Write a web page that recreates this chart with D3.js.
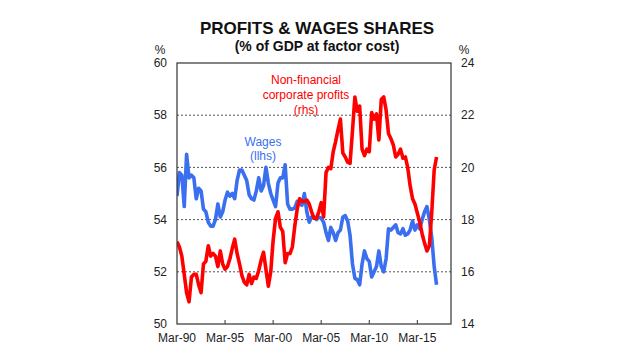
<!DOCTYPE html>
<html>
<head>
<meta charset="utf-8">
<script src="https://cdn.jsdelivr.net/npm/d3@7/dist/d3.min.js"></script>
<style>
  html, body { margin: 0; padding: 0; background: #fff; }
  svg { display: block; font-family: "Liberation Sans", Arial, sans-serif; }
</style>
</head>
<body>
<svg id="chart" width="640" height="360"></svg>
<script>
// Quarterly data, Mar-1990 onwards
const startYear = 1990;
const wages = [
  54.9, 55.8, 55.7, 54.5, 56.5, 55.6, 55.7, 55.6, 54.8, 55.2,
  55.1, 54.4, 54.3, 53.9, 53.75, 53.75, 54.0, 54.6, 54.1, 54.3,
  54.75, 55.05, 54.9, 55.0, 54.8, 55.5, 55.9, 55.9, 55.7, 55.5,
  54.95, 54.8, 54.75, 55.1, 55.6, 55.1, 55.3, 56.0, 55.4, 55.0,
  54.75, 54.5, 55.4, 55.6, 55.6, 56.1, 54.6, 54.4, 54.4, 54.45,
  54.7, 54.6, 54.55, 55.0, 54.3, 53.9, 54.1, 54.1, 54.0, 54.1,
  54.05, 53.9, 53.5, 53.2, 53.7, 53.5, 53.2, 53.5, 53.6, 54.1,
  54.15, 53.95, 53.4, 52.3, 51.75, 51.7, 51.5, 52.3, 52.8, 52.5,
  52.4, 51.8, 52.0, 52.2, 52.8, 52.2, 52.0, 52.5, 53.65, 53.6,
  53.7, 53.8, 53.5, 53.45, 53.65, 53.4, 53.45, 53.6, 53.95, 53.6,
  53.8, 53.65, 54.0, 54.3, 54.5, 54.0, 53.3, 52.2, 51.5
];
const profits = [
  17.15, 16.95, 16.6, 15.9, 15.2, 14.85, 15.8, 15.9, 15.9, 15.5,
  15.2, 16.3, 16.4, 17.0, 16.6, 16.7, 16.6, 16.2, 16.8, 16.3,
  16.1, 16.2, 16.5, 16.9, 17.25, 16.7, 16.3, 15.85, 15.6, 15.5,
  15.9, 15.55, 15.8, 15.75, 16.05, 16.45, 16.75, 16.1, 15.45, 16.0,
  17.2, 18.05, 18.3, 17.7, 17.55, 16.35, 16.7, 16.7, 16.95, 17.75,
  18.4, 18.8, 18.7, 18.7, 18.75, 18.6, 18.3, 18.05, 18.05, 18.3,
  18.65, 18.1, 19.8, 20.0, 19.95, 20.6, 21.0, 21.45, 21.85, 20.55,
  20.4, 20.2, 20.15, 21.4, 22.7, 22.15, 22.35, 20.7, 20.45, 20.7,
  20.6, 22.1, 21.85, 22.05, 21.05, 22.6, 22.7, 22.2, 21.3, 21.1,
  20.85, 20.4, 20.5, 20.7, 20.35, 20.4, 20.0, 19.3, 18.8, 18.6,
  18.25, 17.9, 17.45, 17.1, 16.8, 17.0, 18.3, 19.9, 20.4
];
const leftTicks = [50, 52, 54, 56, 58, 60];
const rightTicks = [14, 16, 18, 20, 22, 24];
const xTickYears = [1990, 1995, 2000, 2005, 2010, 2015];
const xTickLabels = ["Mar-90", "Mar-95", "Mar-00", "Mar-05", "Mar-10", "Mar-15"];

const qDate = i => new Date(startYear, 2 + 3 * i, 1);

const svg = d3.select("#chart");
const L = 177, R = 451, T = 63, B = 324;

const x = d3.scaleTime().domain([new Date(1990, 2, 1), new Date(2018, 8, 1)]).range([L, R]);
const yL = d3.scaleLinear().domain([50, 60]).range([B, T]);
const yR = d3.scaleLinear().domain([14, 24]).range([B, T]);

// Titles
svg.append("text").attr("x", 317).attr("y", 34).attr("text-anchor", "middle")
  .attr("font-size", 17).attr("font-weight", "bold").attr("fill", "#111")
  .text("PROFITS & WAGES SHARES");
svg.append("text").attr("x", 317).attr("y", 51).attr("text-anchor", "middle")
  .attr("font-size", 14).attr("font-weight", "bold").attr("fill", "#111")
  .text("(% of GDP at factor cost)");

// gridlines
svg.append("g").selectAll("line").data(leftTicks.filter(d => d > 50 && d < 60)).join("line")
  .attr("x1", L).attr("x2", R).attr("y1", d => yL(d)).attr("y2", d => yL(d))
  .attr("stroke", "#555").attr("stroke-width", 1).attr("stroke-dasharray", "2,2");

// axes labels
svg.append("g").selectAll("text").data(leftTicks).join("text")
  .attr("x", L - 10).attr("y", d => yL(d)).attr("dy", "0.35em")
  .attr("text-anchor", "end").attr("font-size", 12).attr("fill", "#222").text(d => d);
svg.append("g").selectAll("text").data(rightTicks).join("text")
  .attr("x", R + 10).attr("y", d => yR(d)).attr("dy", "0.35em")
  .attr("text-anchor", "start").attr("font-size", 12).attr("fill", "#222").text(d => d);
svg.append("text").attr("x", 160).attr("y", 54).attr("text-anchor", "middle")
  .attr("font-size", 12).attr("fill", "#222").text("%");
svg.append("text").attr("x", 464).attr("y", 54).attr("text-anchor", "middle")
  .attr("font-size", 12).attr("fill", "#222").text("%");

// x ticks
const xg = svg.append("g");
xg.selectAll("line").data(xTickYears.slice(1)).join("line")
  .attr("x1", d => x(new Date(d, 2, 1))).attr("x2", d => x(new Date(d, 2, 1)))
  .attr("y1", B).attr("y2", B - 4).attr("stroke", "#333");
xg.selectAll("text").data(xTickYears).join("text")
  .attr("x", d => x(new Date(d, 2, 1))).attr("y", 342)
  .attr("text-anchor", "middle").attr("font-size", 12).attr("fill", "#222")
  .text((d, i) => xTickLabels[i]);

// clip
svg.append("clipPath").attr("id", "clip").append("rect")
  .attr("x", L).attr("y", T).attr("width", R - L).attr("height", B - T);

const lineL = d3.line().x((d, i) => x(qDate(i))).y(d => yL(d));
const lineR = d3.line().x((d, i) => x(qDate(i))).y(d => yR(d));

const g = svg.append("g").attr("clip-path", "url(#clip)");
g.append("path").datum(wages).attr("d", lineL).attr("fill", "none")
  .attr("stroke", "#3a6ff0").attr("stroke-width", 3.6).attr("stroke-linejoin", "round");
g.append("path").datum(profits).attr("d", lineR).attr("fill", "none")
  .attr("stroke", "#ff0000").attr("stroke-width", 3.6).attr("stroke-linejoin", "round");

// border
svg.append("rect").attr("x", L).attr("y", T).attr("width", R - L).attr("height", B - T)
  .attr("fill", "none").attr("stroke", "#333").attr("stroke-width", 1.2);

// annotations
const redLab = ["Non-financial", "corporate profits", "(rhs)"];
svg.append("g").selectAll("text").data(redLab).join("text")
  .attr("x", 306).attr("y", (d, i) => 84 + i * 15).attr("text-anchor", "middle")
  .attr("font-size", 12).attr("fill", "#ff0000").text(d => d);
const blueLab = ["Wages", "(llhs)"];
svg.append("g").selectAll("text").data(blueLab).join("text")
  .attr("x", 263).attr("y", (d, i) => 146 + i * 14).attr("text-anchor", "middle")
  .attr("font-size", 12).attr("fill", "#3a6ff0").text(d => d);
</script>
</body>
</html>
